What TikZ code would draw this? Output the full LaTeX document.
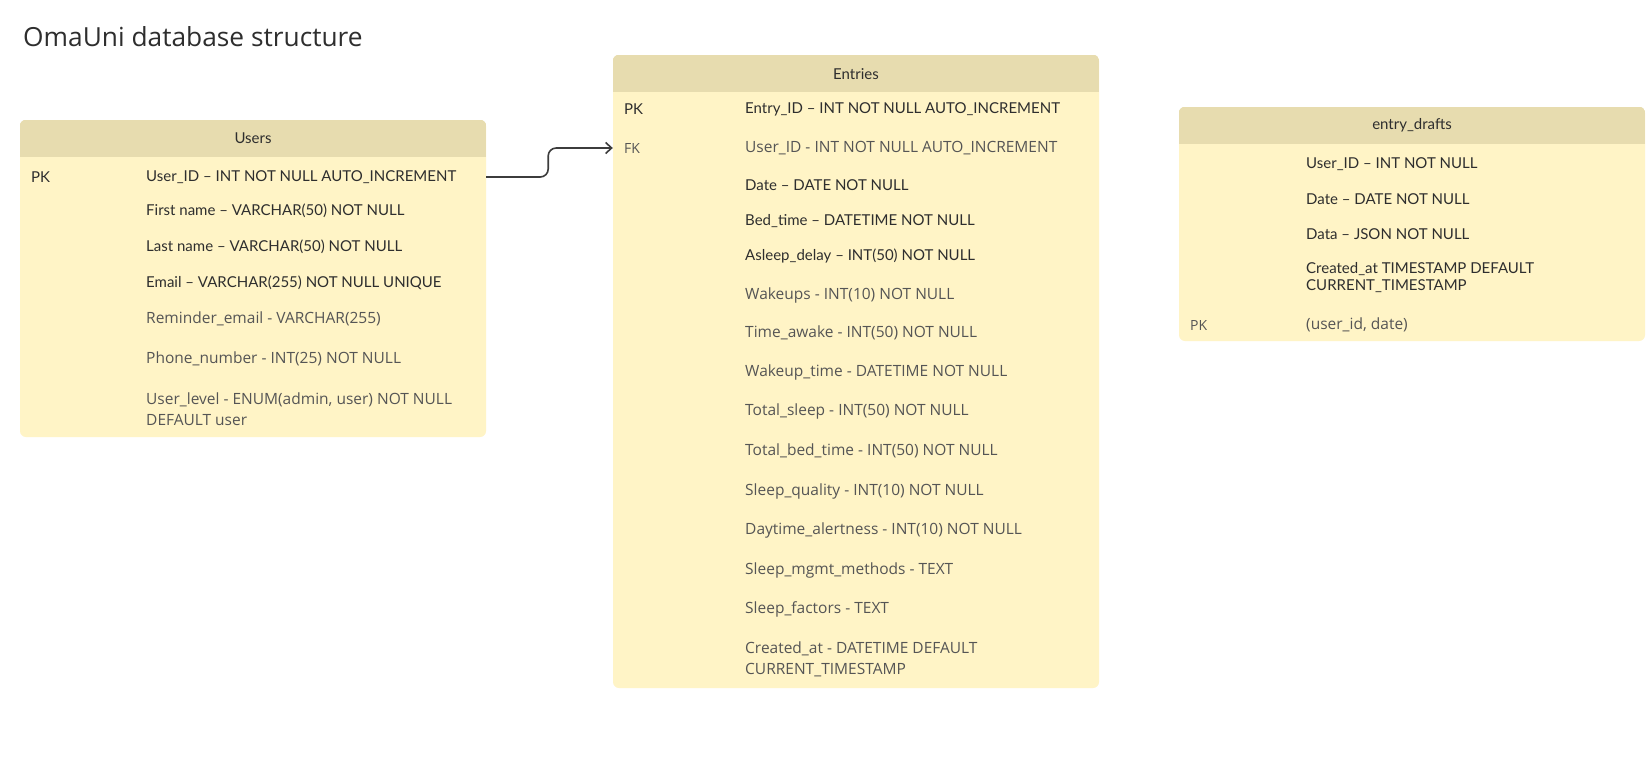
\documentclass[tikz,border=0pt]{standalone}
\usepackage{fontspec}
\setmainfont{Open Sans}
\newfontfamily\geofont{Lato}
\usepackage{tikz}
\usetikzlibrary{positioning,arrows.meta}

\definecolor{headfill}{HTML}{E7DCAF}
\definecolor{bodyfill}{HTML}{FFF4C6}
\definecolor{textdark}{HTML}{2E2E2E}
\definecolor{textgray}{HTML}{555555}
\definecolor{linkgray}{HTML}{3C3C3C}

\begin{document}
\begin{tikzpicture}
  [x=1pt,y=-1pt,
   tbody/.style={fill=bodyfill, rounded corners=6pt, inner sep=0pt},
   thead/.style={inner sep=0pt, font=\geofont\fontsize{15}{17}\selectfont, text=textdark},
   plainkey/.style={anchor=west, inner sep=0pt, yshift=-2pt, font=\fontsize{14}{17}\selectfont, text=textgray},
   geokey/.style={plainkey, font=\geofont\fontsize{15}{17}\selectfont, text=textdark},
   plainrow/.style={anchor=west, inner sep=0pt, yshift=-2pt, align=left, font=\fontsize{15.5}{21}\selectfont, text=textgray},
   georow/.style={plainrow, font=\geofont\fontsize{15}{17}\selectfont, text=textdark},
   fklink/.style={-{Straight Barb[length=6pt,width=11pt]}, line width=1.6pt, draw=linkgray, rounded corners=8pt}]

  \useasboundingbox[fill=white] (0,0) rectangle (1650,758);

  \node[anchor=west, inner sep=0pt, font=\fontsize{26.3}{30}\selectfont, text=textdark] (title) at (23,37) {OmaUni database structure};

  % Users
  \node[tbody, minimum width=466pt, minimum height=317pt] (users) at (253,278.5) {};
  \begin{scope}
    \clip[rounded corners=6pt] (users.north west) rectangle (users.south east);
    \fill[headfill] (users.north west) rectangle ([yshift=-37pt]users.north east);
  \end{scope}
  \node[thead] (usershead) at (253,138) {Users};
  \node[geokey] (upk) at (31,175) {PK};
  \node[georow] (uid) at (146,175) {User\_ID – INT NOT NULL AUTO\_INCREMENT};
  \node[georow] (ufirst) at (146,209) {First name – VARCHAR(50) NOT NULL};
  \node[georow] (ulast) at (146,245) {Last name – VARCHAR(50) NOT NULL};
  \node[georow] (uemail) at (146,281) {Email – VARCHAR(255) NOT NULL UNIQUE};
  \node[plainrow] (uremind) at (146,317) {Reminder\_email - VARCHAR(255)};
  \node[plainrow] (uphone) at (146,357) {Phone\_number - INT(25) NOT NULL};
  \node[plainrow] (ulevel) at (146,407.5) {User\_level - ENUM(admin, user) NOT NULL\\DEFAULT user};

  % Entries
  \node[tbody, minimum width=486pt, minimum height=633pt] (entries) at (856,371.5) {};
  \begin{scope}
    \clip[rounded corners=6pt] (entries.north west) rectangle (entries.south east);
    \fill[headfill] (entries.north west) rectangle ([yshift=-37pt]entries.north east);
  \end{scope}
  \node[thead] (entrieshead) at (856,74) {Entries};
  \node[geokey] (epk) at (624,107) {PK};
  \node[georow] (eid) at (745,107) {Entry\_ID – INT NOT NULL AUTO\_INCREMENT};
  \node[plainkey] (efk) at (624,146) {FK};
  \node[plainrow] (euser) at (745,146) {User\_ID - INT NOT NULL AUTO\_INCREMENT};
  \node[georow] (edate) at (745,183) {Date – DATE NOT NULL};
  \node[georow] (ebed) at (745,219) {Bed\_time – DATETIME NOT NULL};
  \node[georow] (easleep) at (745,254) {Asleep\_delay – INT(50) NOT NULL};
  \node[plainrow] (ewakeups) at (745,293) {Wakeups - INT(10) NOT NULL};
  \node[plainrow] (eawake) at (745,331) {Time\_awake - INT(50) NOT NULL};
  \node[plainrow] (ewaketime) at (745,370) {Wakeup\_time - DATETIME NOT NULL};
  \node[plainrow] (etotal) at (745,409) {Total\_sleep - INT(50) NOT NULL};
  \node[plainrow] (etotalbed) at (745,449) {Total\_bed\_time - INT(50) NOT NULL};
  \node[plainrow] (equality) at (745,489) {Sleep\_quality - INT(10) NOT NULL};
  \node[plainrow] (ealert) at (745,528) {Daytime\_alertness - INT(10) NOT NULL};
  \node[plainrow] (emgmt) at (745,568) {Sleep\_mgmt\_methods - TEXT};
  \node[plainrow] (efactors) at (745,607) {Sleep\_factors - TEXT};
  \node[plainrow] (ecreated) at (745,657.5) {Created\_at - DATETIME DEFAULT\\CURRENT\_TIMESTAMP};

  % entry_drafts
  \node[tbody, minimum width=466pt, minimum height=234pt] (drafts) at (1412,224) {};
  \begin{scope}
    \clip[rounded corners=6pt] (drafts.north west) rectangle (drafts.south east);
    \fill[headfill] (drafts.north west) rectangle ([yshift=-37pt]drafts.north east);
  \end{scope}
  \node[thead] (draftshead) at (1412,125) {entry\_drafts};
  \node[georow] (duser) at (1306,162) {User\_ID – INT NOT NULL};
  \node[georow] (ddate) at (1306,197) {Date – DATE NOT NULL};
  \node[georow] (ddata) at (1306,232) {Data – JSON NOT NULL};
  \node[georow] (dcreated) at (1306,275.5) {Created\_at TIMESTAMP DEFAULT\\CURRENT\_TIMESTAMP};
  \node[plainkey] (dpk) at (1190,323) {PK};
  \node[plainrow] (dkey) at (1306,323) {(user\_id, date)};

  \draw[fklink] (users.east |- upk) -- ++(62,0) |- (entries.west |- efk);
\end{tikzpicture}
\end{document}
